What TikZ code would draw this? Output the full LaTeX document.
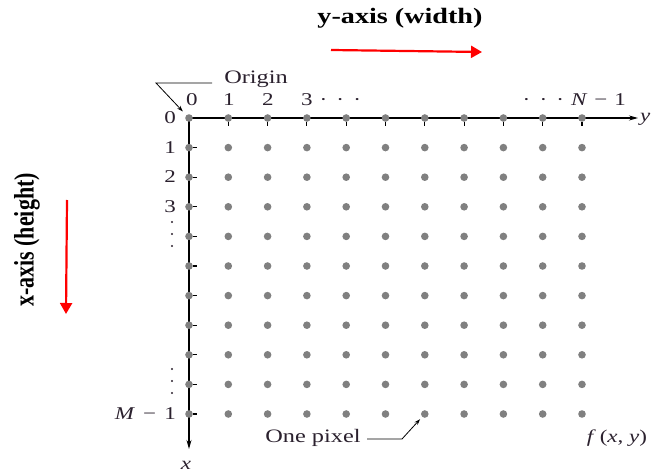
\documentclass[tikz,border=0pt]{standalone}
\usepackage{graphicx}
\usepackage{fontspec}
\setmainfont{Liberation Serif}
\usetikzlibrary{arrows.meta}
\definecolor{txt}{rgb}{0.17,0.13,0.18}
\definecolor{dotgray}{rgb}{0.5,0.5,0.5}
\newcommand{\hs}[1]{\scalebox{1.28}[1]{#1}}
\begin{document}
\begin{tikzpicture}[x=1pt,y=-1pt,
  dot/.style={circle,fill=dotgray,inner sep=0pt,minimum size=7.6pt},
  lbl/.style={font=\fontsize{18}{18}\selectfont, text=txt, inner sep=1pt},
  big/.style={font=\fontsize{19}{19}\selectfont, text=txt, inner sep=1pt},
  head/.style={font=\fontsize{22}{22}\selectfont\bfseries, inner sep=0pt},
  axis/.style={line width=1.1pt, -{Stealth[length=9pt,width=5pt]}},
  redarrow/.style={red, line width=2.2pt, -{Triangle[length=11pt,width=12pt]}},
  tick/.style={line width=1.1pt},
  ptr/.style={line width=0.8pt, -{Stealth[length=6pt,width=4pt]}},
  vdot/.style={fill=txt}]
\useasboundingbox (0,0) rectangle (654,473);

% axes
\coordinate (O) at (189,118);
\coordinate (yend) at (638,118);
\coordinate (xend) at (189,449);
\draw[axis] (O) -- (yend);
\draw[axis] (O) -- (xend);

% pixel grid
\foreach \i in {0,...,10}{
  \foreach \j in {0,...,10}{
    \node[dot] (d-\i-\j) at ({189+39.3*\i},{118+29.6*\j}) {};
  }
}
% ticks
\foreach \i in {1,...,10}{ \draw[tick] (d-\i-0.south) -- ++(0,4); }
\foreach \j in {1,...,10}{ \draw[tick] (d-0-\j.east) -- ++(4,0); }

% axis labels
\node[lbl] (xl) at (186,465) {\hs{\textit{x}}};
\node[lbl,anchor=west] (yl) at (639,119) {\hs{\textit{y}}};

% column labels
\node[lbl] (c0) at (192,100) {\hs{0}};
\node[lbl] (c1) at (229,100) {\hs{1}};
\node[lbl] (c2) at (268,100) {\hs{2}};
\node[lbl,anchor=west] (c3) at (300,100) {\hs{3\hspace{0.3em}·\hspace{0.4em}·\hspace{0.4em}·}};
\node[lbl,anchor=east] (cN) at (627,100) {\hs{·\hspace{0.4em}·\hspace{0.4em}·\hspace{0.3em}\textit{N}\hspace{0.3em}−\hspace{0.3em}1}};

% row labels
\node[lbl,anchor=east] (r0) at (177,118) {\hs{0}};
\node[lbl,anchor=east] (r1) at (177,148) {\hs{1}};
\node[lbl,anchor=east] (r2) at (177,177) {\hs{2}};
\node[lbl,anchor=east] (r3) at (177,207) {\hs{3}};
\node[lbl,anchor=east] (rM) at (177,414) {\hs{\textit{M}\hspace{0.35em}−\hspace{0.35em}1}};
\foreach \yy in {222,234,246,369,381,393}{ \fill[vdot] (172,\yy) circle (1.1); }

% Origin
\node[big] (orig) at (256,79) {\hs{Origin}};
\coordinate (oa) at (212,83);
\coordinate (ob) at (156,83);
\draw[ptr, shorten >=9pt] (oa) -- (ob) -- (d-0-0.center);

% One pixel
\node[big] (pix) at (313,438) {\hs{One pixel}};
\coordinate (pa) at (367,439);
\coordinate (pb) at (402,439);
\draw[ptr, shorten >=7pt] (pa) -- (pb) -- (d-6-10.center);

% f(x,y)
\node[lbl] (f) at (617,438) {\hs{\textit{f}\,(\textit{x}, \textit{y})}};

% headings
\node[head] (yh) at (400,18) {\hs{y-axis (width)}};
\node[head, rotate=90] (xh) at (27,240) {\scalebox{1}[1.28]{x-axis (height)}};
\coordinate (ra1) at (331,50);
\coordinate (ra2) at (482,52);
\draw[redarrow] (ra1) -- (ra2);
\coordinate (rb1) at (67,200);
\coordinate (rb2) at (66,314);
\draw[redarrow] (rb1) -- (rb2);
\end{tikzpicture}
\end{document}
